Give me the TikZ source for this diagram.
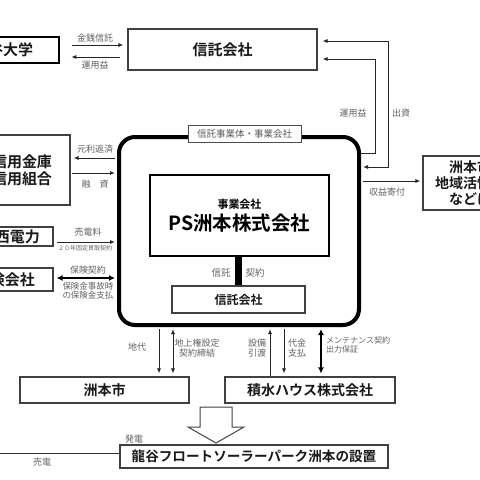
\documentclass[tikz,border=0pt]{standalone}
\usepackage{fontspec}
\setmainfont{Noto Sans CJK JP}[BoldFont={Noto Sans CJK JP Bold}]
\usetikzlibrary{arrows.meta}
\newcommand\myfs[1]{\fontsize{#1}{#1}\selectfont}
\tikzset{
  thinbox/.style={draw=black!75, line width=1.1pt, inner sep=0pt, text=black!90, font=\bfseries\myfs{15}},
  lbl/.style={text=black!62, inner sep=0pt, font=\myfs{9}, align=center},
  arr/.style={draw=black!85, line width=0.9pt, -{Latex[length=5pt,width=4pt]}},
  arrboth/.style={draw=black!85, line width=0.9pt, {Latex[length=5pt,width=4pt]}-{Latex[length=5pt,width=4pt]}},
  thickboth/.style={draw=black, line width=2.2pt, {Latex[length=6pt,width=6pt]}-{Latex[length=6pt,width=6pt]}},
  plainline/.style={draw=black!80, line width=0.9pt}
}
\begin{document}
\begin{tikzpicture}[x=1pt,y=-1pt]
\useasboundingbox (0,0) rectangle (480,480);
% boxes
\node[thinbox, line width=2.6pt, draw=black, minimum width=112pt, minimum height=26pt] (ryu) at (3,50) {龍谷大学};
\node[thinbox, minimum width=189pt, minimum height=41pt] (trustTop) at (222.5,49.5) {信託会社};
\node[thinbox, minimum width=96pt, minimum height=70pt, align=center, font=\bfseries\myfs{15}] (bank) at (22,170) {信用金庫\\[2pt]信用組合};
\node[thinbox, minimum width=86pt, minimum height=19pt] (elec) at (10,236.5) {関西電力};
\node[thinbox, minimum width=96pt, minimum height=23pt] (ins) at (5,279.5) {保険会社};
\node[thinbox, minimum width=94pt, minimum height=54pt, align=center, font=\bfseries\myfs{14}] (rbox) at (470,183) {洲本市\\[2pt]地域活性化\\[2pt]などに};
% main rounded box
\node[draw=black, line width=4pt, rounded corners=16pt, minimum width=240pt, minimum height=188pt, inner sep=0pt] (main) at (239,231) {};
\node[draw=black!70, line width=0.8pt, fill=white, minimum width=113pt, minimum height=17pt, inner sep=0pt, text=black!65, font=\myfs{9.5}] (tag) at (244.5,133.5) {信託事業体・事業会社};
\node[draw=black, line width=2.6pt, minimum width=179pt, minimum height=81pt, inner sep=0pt, align=center, text=black] (ps) at (239.5,215.5) {{\bfseries\myfs{11}事業会社}\\[3pt]{\bfseries\myfs{19.5}PS洲本株式会社}};
\node[thinbox, line width=1.2pt, minimum width=133pt, minimum height=27pt, font=\bfseries\myfs{12}] (trustIn) at (238.5,299.5) {信託会社};
\draw[line width=7pt, black] (ps.south -| 238,0) -- (trustIn.north -| 238,0);
\node[lbl, font=\myfs{9.5}] (lshin) at (221,273) {信託};
\node[lbl, font=\myfs{9.5}] (lkei) at (255,273) {契約};
% bottom boxes
\node[thinbox, minimum width=169pt, minimum height=26pt, font=\bfseries\myfs{14}] (city) at (104.5,390) {洲本市};
\node[thinbox, minimum width=170pt, minimum height=26pt, font=\bfseries\myfs{14}] (seki) at (310,390) {積水ハウス株式会社};
\node[thinbox, minimum width=268pt, minimum height=23pt, font=\bfseries\myfs{13.6}] (solar) at (254,456.5) {龍谷フロートソーラーパーク洲本の設置};
% hollow arrow
\draw[black!75, line width=1pt, fill=white] (200,407) -- (232,407) -- (232,427) -- (244,427) -- (216,443) -- (188,427) -- (200,427) -- cycle;
% top connectors
\draw[arr, shorten <=12pt, shorten >=4pt] (ryu.east |- 0,45) -- (trustTop.west |- 0,45);
\draw[arr, shorten <=7pt, shorten >=11pt] (trustTop.west |- 0,57) -- (ryu.east |- 0,57);
\node[lbl] (lkin) at (95,38) {金銭信託};
\node[lbl] (lunyo1) at (95,65) {運用益};
\draw[arrboth, shorten <=5pt, shorten >=2pt] (trustTop.east |- 0,41) -| (388,167) -- (main.east |- 0,167);
\draw[arr, shorten >=5pt] (main.east |- 0,153) -| (375,59) -- (trustTop.east |- 0,59);
\node[lbl] (lunyo2) at (353,113) {運用益};
\node[lbl] (lshus) at (401,113) {出資};
% right
\draw[arr, shorten <=2pt, shorten >=2pt] (main.east |- 0,181) -- (rbox.west |- 0,181);
\node[lbl] (lkifu) at (387,192) {収益寄付};
% left connectors
\draw[arr, shorten <=2pt, shorten >=3pt] (main.west |- 0,158) -- (bank.east |- 0,158);
\node[lbl] (lganri) at (95,149) {元利返済};
\draw[arr, shorten <=1pt, shorten >=2pt] (bank.east |- 0,173) -- (main.west |- 0,173);
\node[lbl] (lyushi) at (95,184) {融　資};
\draw[arr, shorten <=3pt, shorten >=2pt] (elec.east |- 0,242) -- (main.west |- 0,242);
\node[lbl] (lbaiden) at (88,232) {売電料};
\node[lbl, font=\myfs{6}] (l20) at (85,248) {２０年固定買取契約};
\draw[thickboth, shorten <=3pt, shorten >=2pt] (ins.east |- 0,278) -- (main.west |- 0,278);
\node[lbl] (lhoken) at (88,270) {保険契約};
\node[lbl, font=\myfs{8.5}] (lhoken2) at (88,291) {保険金事故時\\[1pt]の保険金支払};
% bottom connectors
\draw[arr, shorten <=2pt, shorten >=3pt] (main.south -| 159,0) -- (city.north -| 159,0);
\draw[arrboth, shorten <=2pt, shorten >=3pt] (main.south -| 173,0) -- (city.north -| 173,0);
\node[lbl] (lchidai) at (137,347) {地代};
\node[lbl] (lchijo) at (197,348) {地上権設定\\[1pt]契約締結};
\draw[arr, shorten >=2pt] (seki.north -| 270,0) -- (main.south -| 270,0);
\draw[arr, shorten <=2pt, shorten >=3pt] (main.south -| 284,0) -- (seki.north -| 284,0);
\node[lbl] (lsetsubi) at (257,348) {設備\\[1pt]引渡};
\node[lbl] (ldaikin) at (297,348) {代金\\[1pt]支払};
\draw[thickboth, shorten <=2pt, shorten >=3pt] (main.south -| 321,0) -- (seki.north -| 321,0);
\node[lbl, font=\myfs{8}, anchor=west, align=left] (lmaint) at (326,345) {メンテナンス契約\\[1pt]出力保証};
% bottom line
\coordinate (leftend) at (-10,453);
\draw[plainline] (solar.west |- 0,453) -- (leftend);
\node[lbl] (lhatsu) at (134,439) {発電};
\node[lbl] (lbai) at (42,462) {売電};
\end{tikzpicture}
\end{document}
